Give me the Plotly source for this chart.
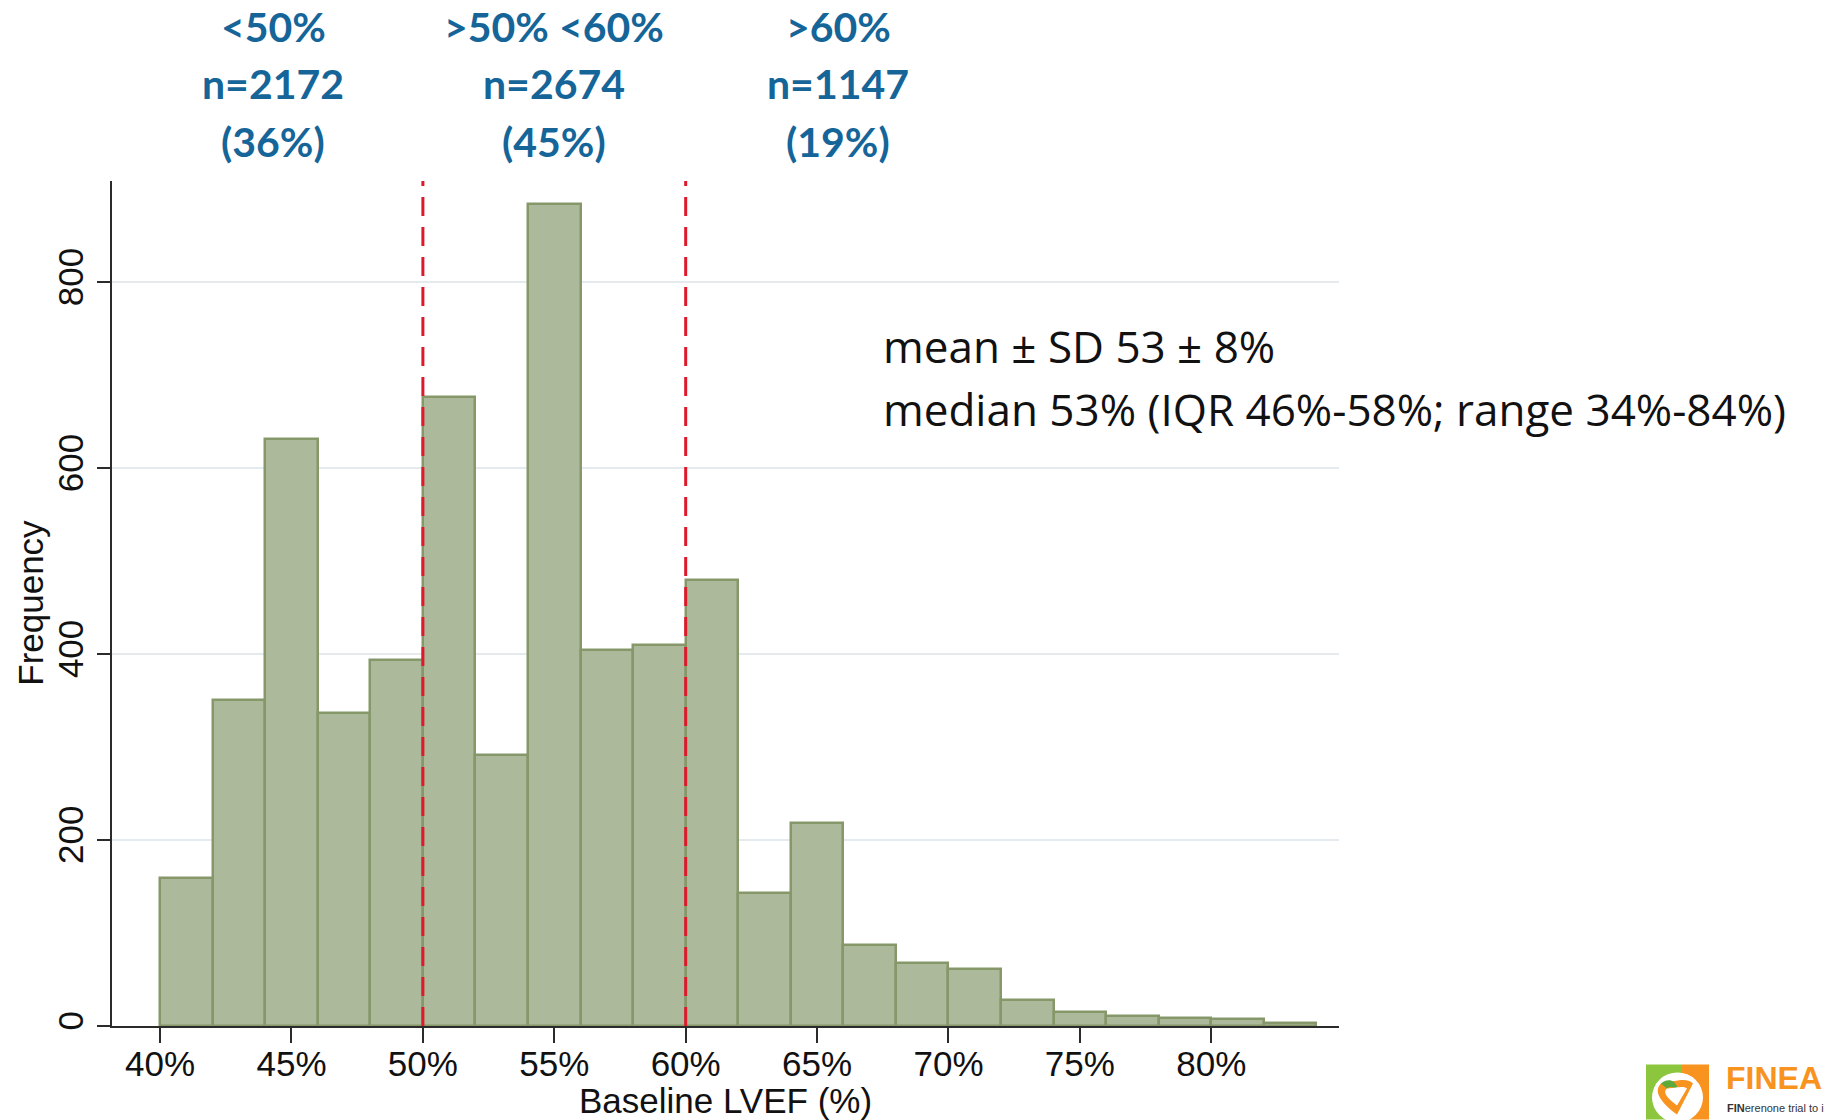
import plotly.graph_objects as go

# ---- data ----
bin_start = [40, 42, 44, 46, 48, 50, 52, 54, 56, 58, 60, 62, 64, 66, 68, 70, 72, 74, 76, 78, 80, 82]
counts = [159, 351, 631, 337, 394, 677, 292, 884, 405, 410, 480, 143, 218, 87, 68, 61, 28, 15, 11, 9, 7, 3]
bin_width = 2
cutoffs = [50, 60]
x_ticks = [40, 45, 50, 55, 60, 65, 70, 75, 80]
x_tick_text = ["40%", "45%", "50%", "55%", "60%", "65%", "70%", "75%", "80%"]
y_ticks = [0, 200, 400, 600, 800]
group_x = [44.3, 55.0, 65.8]
group_label = ["&lt;50%", "&gt;50% &lt;60%", "&gt;60%"]
group_n = ["n=2172", "n=2674", "n=1147"]
group_pct = ["(36%)", "(45%)", "(19%)"]
stats_lines = ["mean ± SD 53 ± 8%", "median 53% (IQR 46%-58%; range 34%-84%)"]
x_title = "Baseline LVEF (%)"
y_title = "Frequency"

W, H = 1829, 1120
L, R, T, B = 112, 1339, 181, 1026.5


def px(xp):
    return (xp - L) / (R - L)


def py(yp):
    return (B - yp) / (B - T)


def path_px(cmds):
    out = []
    for c in cmds:
        if isinstance(c, str):
            out.append(c)
        else:
            out.append(f"{px(c[0]):.5f},{py(c[1]):.5f}")
    return " ".join(out)


centers = [s + bin_width / 2 for s in bin_start]

fig = go.Figure()
fig.add_trace(go.Bar(
    x=centers, y=counts, width=bin_width,
    marker=dict(color="#adb99b", line=dict(color="#86976a", width=2.5)),
    hoverinfo="x+y", showlegend=False,
))

for c in cutoffs:
    fig.add_shape(type="line", x0=c, x1=c, xref="x", y0=0, y1=1, yref="y domain",
                  line=dict(color="#dc1a2c", width=3, dash="19px,11px"), layer="above")

font_axis = "Liberation Sans, Arial, sans-serif"

fig.update_layout(
    width=W, height=H,
    margin=dict(l=L, r=W - R, t=T, b=H - B, autoexpand=False),
    paper_bgcolor="white", plot_bgcolor="white",
    bargap=0,
    xaxis=dict(
        range=[38.17, 84.86], tickvals=x_ticks, ticktext=x_tick_text,
        showgrid=False, zeroline=False, automargin=False,
        showline=True, linecolor="#2b2b2b", linewidth=2,
        ticks="outside", ticklen=15, tickwidth=2, tickcolor="#2b2b2b",
        ticklabelstandoff=-9,
        tickfont=dict(family=font_axis, size=35, color="#111"),
    ),
    yaxis=dict(
        range=[0, 909], tickvals=y_ticks, tickangle=-90,
        showgrid=True, gridcolor="#e4eaee", gridwidth=1.5, zeroline=False, automargin=False,
        showline=True, linecolor="#2b2b2b", linewidth=2,
        ticks="outside", ticklen=13, tickwidth=2, tickcolor="#2b2b2b",
        tickfont=dict(family=font_axis, size=35, color="#111"),
    ),
)

# axis titles
fig.add_annotation(x=px(725), xref="paper", y=py(1101), yref="paper", text=x_title, showarrow=False,
                   xanchor="center", yanchor="middle", font=dict(family=font_axis, size=35, color="#111"))
fig.add_annotation(x=px(31), xref="paper", y=py(603), yref="paper", text=y_title, showarrow=False,
                   textangle=-90, xanchor="center", yanchor="middle",
                   font=dict(family=font_axis, size=35, color="#111"))

blue = "#156599"
for gx, g1, g2, g3 in zip(group_x, group_label, group_n, group_pct):
    for txt, ypix in zip([g1, g2, g3], [26, 83, 141]):
        fig.add_annotation(x=gx, xref="x", y=py(ypix), yref="paper", text="<b>" + txt + "</b>",
                           showarrow=False, xanchor="center", yanchor="middle",
                           font=dict(family="Lato, sans-serif", size=41, color=blue))

for txt, ypix in zip(stats_lines, [346, 409]):
    fig.add_annotation(x=px(881), xref="paper", y=py(ypix), yref="paper", text=txt,
                       showarrow=False, xanchor="left", yanchor="middle",
                       font=dict(family="Open Sans, sans-serif", size=44, color="#111"))

# ---- logo (bottom right, cropped as in the slide) ----
fig.add_shape(type="rect", xref="paper", yref="paper", x0=px(1646), x1=px(1681), y0=py(1120), y1=py(1065),
              fillcolor="#8cc63f", line=dict(width=0), layer="above")
fig.add_shape(type="rect", xref="paper", yref="paper", x0=px(1681), x1=px(1709), y0=py(1120), y1=py(1065),
              fillcolor="#f7931e", line=dict(width=0), layer="above")
fig.add_shape(type="circle", xref="paper", yref="paper", x0=px(1652), x1=px(1703), y0=py(1123), y1=py(1073),
              fillcolor="white", line=dict(width=0), layer="above")
heart_outer = path_px(["M", (1677, 1115), "C", (1658, 1101), (1654, 1091), (1661, 1084),
                       (1668, 1078), (1675, 1081), (1677, 1087), "C", (1679, 1081), (1686, 1078), (1693, 1084),
                       (1700, 1091), (1696, 1101), (1677, 1115), "Z"])
heart_inner = path_px(["M", (1677, 1106), "C", (1665, 1097), (1663, 1092), (1667, 1089),
                       (1671, 1086), (1675, 1088), (1677, 1092), "C", (1679, 1088), (1683, 1086), (1687, 1089),
                       (1691, 1092), (1689, 1097), (1677, 1106), "Z"])
fig.add_shape(type="path", xref="paper", yref="paper", path=heart_outer,
              fillcolor="#f7931e", line=dict(width=0), layer="above")
fig.add_shape(type="path", xref="paper", yref="paper",
              path=path_px(["M", (1661, 1084), "C", (1668, 1078), (1675, 1081), (1677, 1087),
                            "L", (1677, 1092), "C", (1675, 1088), (1671, 1086), (1667, 1089), "Z"]),
              fillcolor="#5fa83a", line=dict(width=0), layer="above")
fig.add_shape(type="path", xref="paper", yref="paper", path=heart_inner,
              fillcolor="white", line=dict(width=0), layer="above")
fig.add_annotation(x=px(1724), xref="paper", y=py(1079), yref="paper", text="<b>FINEA</b>",
                   showarrow=False, xanchor="left", yanchor="middle",
                   font=dict(family="Liberation Sans, Arial", size=32, color="#f7931e"))
fig.add_annotation(x=px(1725), xref="paper", y=py(1109), yref="paper",
                   text="<b>FIN</b>erenone trial to i",
                   showarrow=False, xanchor="left", yanchor="middle",
                   font=dict(family="Liberation Sans, Arial", size=11, color="#333"))

fig.write_html("out.html")
